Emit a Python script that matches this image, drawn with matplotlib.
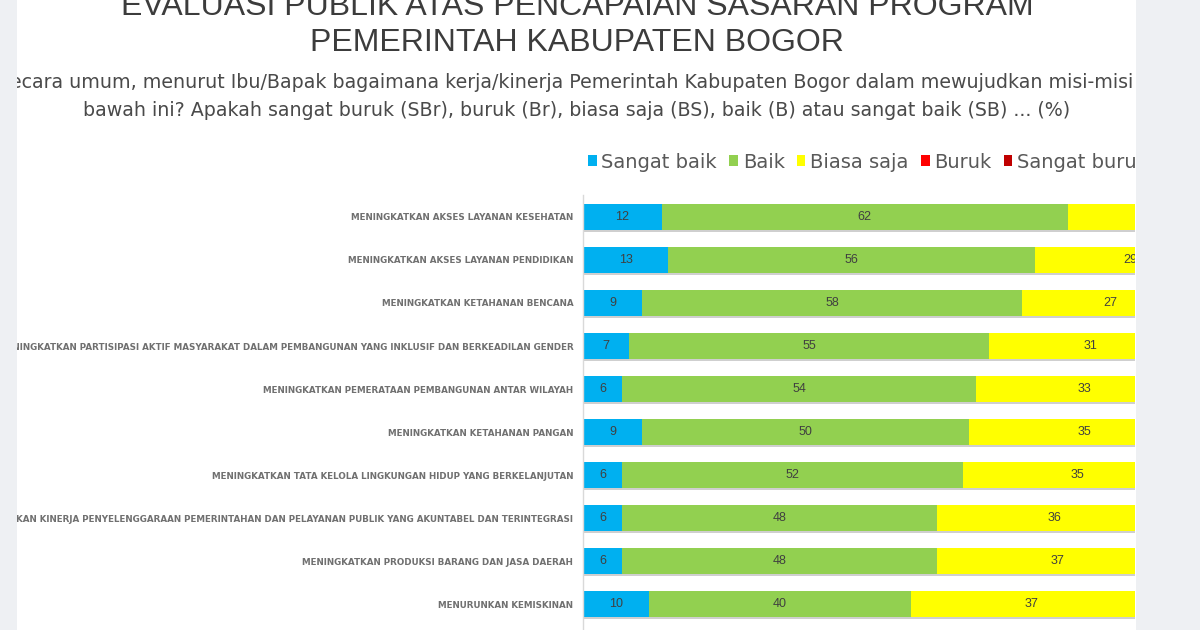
import numpy as np
from matplotlib import pyplot as plt
from matplotlib.patches import Rectangle

""" Data """
categories = [
    'MENINGKATKAN AKSES LAYANAN KESEHATAN',
    'MENINGKATKAN AKSES LAYANAN PENDIDIKAN',
    'MENINGKATKAN KETAHANAN BENCANA',
    'MENINGKATKAN PARTISIPASI AKTIF MASYARAKAT DALAM PEMBANGUNAN YANG INKLUSIF DAN BERKEADILAN GENDER',
    'MENINGKATKAN PEMERATAAN PEMBANGUNAN ANTAR WILAYAH',
    'MENINGKATKAN KETAHANAN PANGAN',
    'MENINGKATKAN TATA KELOLA LINGKUNGAN HIDUP YANG BERKELANJUTAN',
    'MENINGKATKAN KINERJA PENYELENGGARAAN PEMERINTAHAN DAN PELAYANAN PUBLIK YANG AKUNTABEL DAN TERINTEGRASI',
    'MENINGKATKAN PRODUKSI BARANG DAN JASA DAERAH',
    'MENURUNKAN KEMISKINAN',
]
sangat_baik = [12, 13, 9, 7, 6, 9, 6, 6, 6, 10]
baik = [62, 56, 58, 55, 54, 50, 52, 48, 48, 40]
biasa_saja = [23, 29, 27, 31, 33, 35, 35, 36, 37, 37]
buruk = [2, 2, 5, 6, 6, 5, 6, 8, 7, 11]
sangat_buruk = [1, 0, 1, 1, 1, 1, 1, 2, 2, 2]

series_names = ['Sangat baik', 'Baik', 'Biasa saja', 'Buruk', 'Sangat buruk']
series_vals = [sangat_baik, baik, biasa_saja, buruk, sangat_buruk]
colors = ['#00B0F0', '#92D050', '#FFFF00', '#FF0000', '#C00000']

title = 'EVALUASI PUBLIK ATAS PENCAPAIAN SASARAN PROGRAM\nPEMERINTAH KABUPATEN BOGOR'
question = ('Secara umum, menurut Ibu/Bapak bagaimana kerja/kinerja Pemerintah Kabupaten Bogor '
            'dalam mewujudkan misi-misi di\nbawah ini? Apakah sangat buruk (SBr), buruk (Br), '
            'biasa saja (BS), baik (B) atau sangat baik (SB) ... (%)')

W, H = 1200, 630
fig = plt.figure(figsize=(12, 6.3), dpi=100)
fig.patch.set_facecolor('white')

# chart area: x 583..1135 px, y 195..630 px
ax = fig.add_axes([583 / W, 0, (1135 - 583) / W, (630 - 195) / H])
px_per_unit = 6.55
ax.set_xlim(0, (1135 - 583) / px_per_unit)
ax.set_ylim(9.6, -0.51)

y = np.arange(len(categories))
left = np.zeros(len(categories))
handles = []
for name, vals, col in zip(series_names, series_vals, colors):
    vals = np.array(vals, dtype=float)
    # faint shadow under each bar
    ax.barh(y + 0.05, vals, left=left, height=0.6, color='#a0a0a0', alpha=0.5,
            zorder=1, linewidth=0)
    b = ax.barh(y, vals, left=left, height=0.6, color=col, zorder=2,
                linewidth=0, label=name)
    handles.append(b)
    for yi, (l, v) in enumerate(zip(left, vals)):
        if v > 0:
            ax.text(l + v / 2, yi, '%d' % v, ha='center', va='center',
                    fontsize=9, color='#404040', family='Liberation Sans',
                    zorder=3, clip_on=True)
    left += vals

ax.set_yticks(y)
ax.set_yticklabels(categories, fontsize=6.3, fontweight='bold', color='#707070')
ax.tick_params(axis='y', length=0, pad=7)
ax.set_xticks([])
for s in ['top', 'right', 'bottom']:
    ax.spines[s].set_visible(False)
ax.spines['left'].set_color('#d9d9d9')
ax.spines['left'].set_linewidth(1)

leg = fig.legend(handles=handles, labels=series_names, loc='center left',
                 bbox_to_anchor=(580 / W, 1 - 162 / H), ncol=5, frameon=False,
                 fontsize=14, handlelength=0.45, handleheight=0.45,
                 handletextpad=0.25, columnspacing=0.62, borderaxespad=0,
                 labelcolor='#595959')

fig.text(577 / W, 1 - 25 / H, title, ha='center', va='center',
         family='Liberation Sans', fontsize=23, color='#3c3c3c',
         linespacing=1.28)
fig.text(577 / W, 1 - 96.5 / H, question, ha='center', va='center',
         fontsize=13.7, color='#4a4a4a', linespacing=1.6)

# slide edges (gray page background on both sides)
fig.add_artist(Rectangle((0, 0), 17 / W, 1, transform=fig.transFigure,
                         color='#eef0f3', zorder=100, linewidth=0))
fig.add_artist(Rectangle((1136 / W, 0), 1 - 1136 / W, 1, transform=fig.transFigure,
                         color='#eef0f3', zorder=100, linewidth=0))

fig.savefig('out.png', dpi=100, facecolor=fig.get_facecolor())
